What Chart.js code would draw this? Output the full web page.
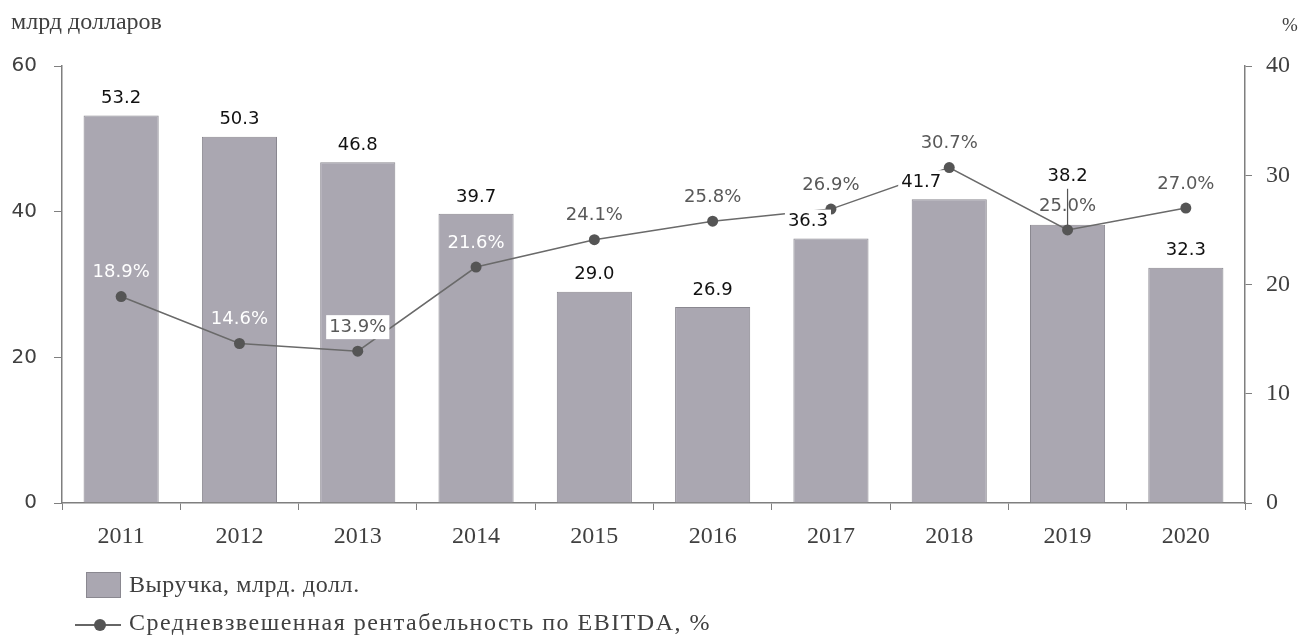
<!DOCTYPE html>
<html>
<head>
<meta charset="utf-8">
<script src="https://cdn.jsdelivr.net/npm/chart.js@4"></script>
<style>
    body { margin: 0; background: #fff; }
    #wrap { position: relative; width: 1309px; height: 639px; overflow: hidden; }
    .note { position: absolute; font-family: "Liberation Serif", serif; color: #404040; white-space: nowrap; }
    .leg { position: absolute; font-family: "Liberation Serif", serif; font-size: 24px; color: #404040; white-space: nowrap; }
</style>
</head>
<body>
<div id="wrap">
    <canvas id="chart" width="1309" height="639"></canvas>
    <div class="note" style="left:11px; top:8px; font-size:24px;">млрд долларов</div>
    <div class="note" style="left:1282px; top:14px; font-size:19px;">%</div>
    <div style="position:absolute; left:86px; top:572px; width:33px; height:24px; background:#aaa7b1; border:1px solid #8a8890;"></div>
    <div class="leg" style="left:129px; top:571px; letter-spacing:0.6px;">Выручка, млрд. долл.</div>
    <div style="position:absolute; left:75px; top:624px; width:46px; height:1.5px; background:#666;"></div>
    <div style="position:absolute; left:94px; top:619px; width:12px; height:12px; border-radius:50%; background:#555;"></div>
    <div class="leg" style="left:129px; top:609px; letter-spacing:1.5px;">Средневзвешенная рентабельность по EBITDA, %</div>
</div>
<script>
const years = ["2011", "2012", "2013", "2014", "2015", "2016", "2017", "2018", "2019", "2020"];
const revenue = [53.2, 50.3, 46.8, 39.7, 29.0, 26.9, 36.3, 41.7, 38.2, 32.3];
const margin = [18.9, 14.6, 13.9, 21.6, 24.1, 25.8, 26.9, 30.7, 25.0, 27.0];

// label placement tweaks so the texts don't collide with the line
const barLabelShift = [0, 0, 0, 0, 0, 0, -23, -28, 0, 0];
const barLabelLift = [0, 0, 0, 0, 0, 0, 0, 0, 31, 0];
const barLabelBoxed = [false, false, false, false, false, false, true, true, false, false];
const lineLabelMode = ["white", "white", "boxed", "white", "grey", "grey", "grey", "grey", "grey", "grey"];

const axisColor = "#7f7f7f";

const labelsPlugin = {
    id: "valueLabels",
    afterDatasetsDraw(chart) {
        const ctx = chart.ctx;
        const bars = chart.getDatasetMeta(1).data;
        const points = chart.getDatasetMeta(0).data;
        ctx.save();
        ctx.font = '18px "DejaVu Sans"';
        ctx.textAlign = "center";
        ctx.textBaseline = "middle";

        points.forEach((pt, i) => {
            const text = margin[i].toFixed(1) + "%";
            const x = pt.x;
            const y = pt.y - 24;
            if (lineLabelMode[i] === "boxed") {
                const w = ctx.measureText(text).width;
                ctx.fillStyle = "#fff";
                ctx.fillRect(x - w / 2 - 3, y - 12, w + 6, 24);
                ctx.fillStyle = "#595959";
            } else if (lineLabelMode[i] === "white") {
                ctx.fillStyle = "#fff";
            } else {
                ctx.fillStyle = "#595959";
            }
            ctx.fillText(text, x, y);
        });

        bars.forEach((bar, i) => {
            const text = revenue[i].toFixed(1);
            const x = bar.x + barLabelShift[i];
            const y = bar.y - 17 - barLabelLift[i];
            if (barLabelBoxed[i]) {
                const w = ctx.measureText(text).width;
                ctx.fillStyle = "#fff";
                ctx.fillRect(x - w / 2 - 3, y - 12, w + 6, 24);
            }
            if (barLabelLift[i] > 0) {
                ctx.strokeStyle = "#555";
                ctx.lineWidth = 1.2;
                ctx.beginPath();
                ctx.moveTo(bar.x, y + 12);
                ctx.lineTo(bar.x, points[i].y);
                ctx.stroke();
            }
            ctx.fillStyle = "#111";
            ctx.fillText(text, x, y);
        });
        ctx.restore();
    },
};

new Chart(document.getElementById("chart"), {
    data: {
        labels: years,
        datasets: [
            {
                type: "line",
                data: margin,
                yAxisID: "y1",
                borderColor: "#6a6a6a",
                borderWidth: 1.5,
                pointRadius: 5.5,
                pointBackgroundColor: "#555",
                pointBorderColor: "#555",
                pointBorderWidth: 0,
                order: 0,
            },
            {
                type: "bar",
                data: revenue,
                yAxisID: "y",
                backgroundColor: "#aaa7b1",
                borderColor: "#8a8890",
                borderWidth: 1,
                barPercentage: 0.635,
                categoryPercentage: 1,
                order: 1,
            },
        ],
    },
    options: {
        responsive: false,
        animation: false,
        devicePixelRatio: 1,
        layout: {
            padding: { top: 66, bottom: 81, left: 0, right: 0 },
        },
        plugins: {
            legend: { display: false },
            tooltip: { enabled: false },
        },
        scales: {
            x: {
                afterFit(scale) { scale.height = 55; },
                grid: {
                    offset: true,
                    drawOnChartArea: false,
                    tickLength: 7,
                    color: axisColor,
                },
                border: { color: axisColor, width: 1.5 },
                ticks: {
                    padding: 12,
                    color: "#404040",
                    font: { family: "Liberation Serif", size: 24 },
                },
            },
            y: {
                position: "left",
                min: 0,
                max: 60,
                afterFit(scale) { scale.width = 62; },
                grid: { drawOnChartArea: false, tickLength: 8, color: axisColor },
                border: { color: axisColor, width: 1.5 },
                ticks: {
                    stepSize: 20,
                    padding: 17,
                    color: "#404040",
                    font: { family: "DejaVu Sans", size: 20 },
                },
            },
            y1: {
                position: "right",
                min: 0,
                max: 40,
                afterFit(scale) { scale.width = 64; },
                grid: { drawOnChartArea: false, tickLength: 7, color: axisColor },
                border: { color: axisColor, width: 1.5 },
                ticks: {
                    stepSize: 10,
                    padding: 14,
                    color: "#404040",
                    font: { family: "Liberation Serif", size: 24 },
                },
            },
        },
    },
    plugins: [labelsPlugin],
});
</script>
</body>
</html>
